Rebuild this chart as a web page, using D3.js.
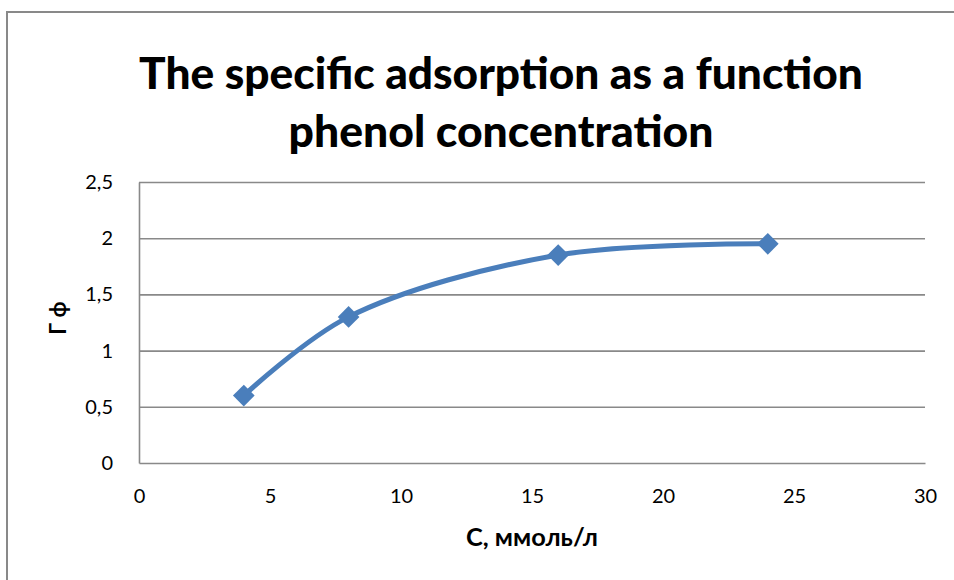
<!DOCTYPE html>
<html>
<head>
<meta charset="utf-8">
<script src="https://cdn.jsdelivr.net/npm/d3@7"></script>
<style>
  html, body { margin: 0; padding: 0; background: #fff; }
  svg { display: block; }
  text { font-family: Lato, "Open Sans", sans-serif; fill: #000; }
</style>
</head>
<body>
<svg id="chart" width="954" height="580"></svg>
<script>
// ---- data ----
const concentration = [4, 8, 16, 24];
const adsorption = [0.6, 1.3, 1.85, 1.95];
const xTicks = [0, 5, 10, 15, 20, 25, 30];
const yTicks = [0, 0.5, 1, 1.5, 2, 2.5];
const titleLines = ["The specific adsorption as a function", "phenol concentration"];
const xTitle = "С, ммоль/л";
const yTitle = "Г ф";

const svg = d3.select("#chart");
const W = 954, H = 580;
const plot = { left: 139, right: 925, top: 182, bottom: 463 };

// chart border
svg.append("rect")
  .attr("x", 7).attr("y", 12)
  .attr("width", W + 20).attr("height", H + 20)
  .attr("fill", "#fff").attr("stroke", "#898989").attr("stroke-width", 2);

const x = d3.scaleLinear().domain([0, 30]).range([plot.left, plot.right]);
const y = d3.scaleLinear().domain([0, 2.5]).range([plot.bottom, plot.top]);

const fmt = d => String(d).replace(".", ",");

// gridlines
svg.append("g")
  .attr("transform", `translate(${plot.left},0)`)
  .call(d3.axisLeft(y).tickValues(yTicks.filter(d => d > 0)).tickSize(-(plot.right - plot.left)).tickFormat(""))
  .call(g => g.select(".domain").remove())
  .call(g => g.selectAll("line").attr("stroke", "#898989").attr("stroke-width", 1.6));

// y axis
const yAxis = svg.append("g")
  .attr("transform", `translate(${plot.left},0)`)
  .call(d3.axisLeft(y).tickValues(yTicks).tickSize(0).tickPadding(26).tickFormat(fmt));
yAxis.select(".domain").attr("stroke", "#898989").attr("stroke-width", 1.6);
yAxis.selectAll("text").style("font-size", "20px").style("font-family", "Lato, sans-serif").attr("fill", "#000");

// x axis
const xAxis = svg.append("g")
  .attr("transform", `translate(0,${plot.bottom})`)
  .call(d3.axisBottom(x).tickValues(xTicks).tickSize(0).tickPadding(26).tickFormat(fmt));
xAxis.select(".domain").attr("stroke", "#898989").attr("stroke-width", 1.6);
xAxis.selectAll("text").style("font-size", "20px").style("font-family", "Lato, sans-serif").attr("fill", "#000");

// line
const pts = concentration.map((c, i) => [c, adsorption[i]]);
const line = d3.line().x(d => x(d[0])).y(d => y(d[1])).curve(d3.curveCatmullRom.alpha(0.5));
svg.append("path")
  .attr("d", line(pts))
  .attr("fill", "none").attr("stroke", "#4A7EBB").attr("stroke-width", 5)
  .attr("stroke-linejoin", "round").attr("stroke-linecap", "round");

// markers
svg.append("g").selectAll("path")
  .data(pts).join("path")
  .attr("d", d3.symbol().type(d3.symbolDiamond2 || d3.symbolDiamond).size(300))
  .attr("transform", d => `translate(${x(d[0])},${y(d[1])})`)
  .attr("fill", "#4A7EBB");

// title
const titleWidths = [724, 425];
const titleBaselines = [89, 147];
titleLines.forEach((t, i) => {
  const el = svg.append("text")
    .attr("x", 501).attr("y", titleBaselines[i])
    .attr("text-anchor", "middle")
    .style("font-weight", "900").style("font-size", "40px")
    .text(t);
  const w = el.node().getComputedTextLength();
  const fs = 40 * titleWidths[i] / w;
  el.style("font-size", fs.toFixed(2) + "px");
});

// axis titles
const xt = svg.append("text")
  .attr("x", (plot.left + plot.right) / 2).attr("y", 546)
  .attr("text-anchor", "middle")
  .style("font-weight", "bold").style("font-size", "22px")
  .text(xTitle);
const xtw = xt.node().getComputedTextLength();
xt.style("font-size", (22 * 132 / xtw).toFixed(2) + "px");

svg.append("text")
  .attr("transform", `translate(66,318) rotate(-90)`)
  .attr("text-anchor", "middle")
  .style("font-weight", "bold").style("font-size", "22px")
  .text(yTitle);
</script>
</body>
</html>
